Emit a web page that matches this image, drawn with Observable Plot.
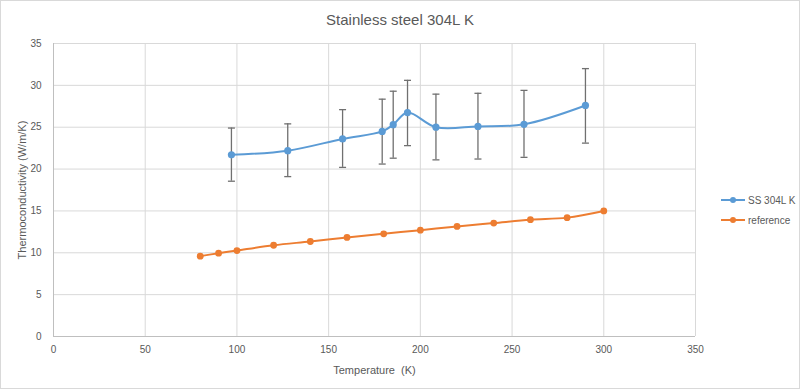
<!DOCTYPE html>
<html><head><meta charset="utf-8">
<script src="https://cdn.jsdelivr.net/npm/d3@7"></script>
<script src="https://cdn.jsdelivr.net/npm/@observablehq/plot@0.6"></script>
<style>
body{margin:0;background:#fff;}
#chart{position:relative;width:800px;height:389px;font-family:"Liberation Sans",Arial,sans-serif;overflow:hidden;background:#fff;}
#title{height:35px;line-height:40px;text-align:center;font-size:15px;color:#595959;}
#border{position:absolute;left:0;top:0;width:800px;height:389px;box-sizing:border-box;border:1px solid #d9d9d9;pointer-events:none;}
#legend{position:absolute;left:720px;top:190px;font-size:10px;color:#595959;white-space:nowrap;}
.item{display:flex;align-items:center;height:20px;white-space:nowrap;}
.item svg{margin-right:2px;flex:none;}
</style></head>
<body>
<div id="chart">
  <div id="title">Stainless steel 304L K</div>
  <div id="plot"></div>
  <div id="legend"></div>
  <div id="border"></div>
</div>
<script>
const ssTemp = [97, 127.7, 157.6, 179.2, 185.2, 193, 208.5, 231.4, 256.5, 290];
const ssK    = [21.7, 22.2, 23.6, 24.5, 25.3, 26.75, 25.0, 25.1, 25.35, 27.6];
const ssLow  = [18.55, 19.1, 20.2, 20.6, 21.3, 22.8, 21.1, 21.2, 21.4, 23.1];
const ssHigh = [24.9, 25.4, 27.1, 28.35, 29.3, 30.6, 28.95, 29.05, 29.4, 32.0];
const refTemp = [80, 90, 100, 120, 140, 160, 180, 200, 220, 240, 260, 280, 300];
const refK    = [9.6, 9.95, 10.27, 10.9, 11.35, 11.83, 12.27, 12.7, 13.15, 13.55, 13.95, 14.2, 15.0];
const xTicks = [0, 50, 100, 150, 200, 250, 300, 350];
const yTicks = [0, 5, 10, 15, 20, 25, 30, 35];
const seriesNames = ["SS 304L K", "reference"];
const colors = ["#5B9BD5", "#ED7D31"];

const ss = ssTemp.map((t, i) => ({t, k: ssK[i], lo: ssLow[i], hi: ssHigh[i]}));
const ref = refTemp.map((t, i) => ({t, k: refK[i]}));

const capSymbol = {draw(ctx, size){ const r = Math.sqrt(size/Math.PI); ctx.moveTo(-r,0); ctx.lineTo(r,0); }};

const plot = Plot.plot({
  width: 800, height: 354,
  marginLeft: 53, marginRight: 105, marginTop: 8, marginBottom: 53,
  style: {fontFamily: '"Liberation Sans", Arial, sans-serif', fontSize: "10px", color: "#595959", background: "transparent"},
  x: {domain: [0, 350], ticks: xTicks, tickSize: 0, tickPadding: 9, label: "Temperature  (K)", labelAnchor: "center", labelArrow: "none", labelOffset: 37},
  y: {domain: [0, 35], ticks: yTicks, tickSize: 0, tickPadding: 12, label: "Thermoconductivity (W/m/K)", labelAnchor: "center", labelArrow: "none", labelOffset: 35},
  marks: [
    Plot.gridX(xTicks, {stroke: "#d9d9d9", strokeOpacity: 1}),
    Plot.gridY(yTicks, {stroke: "#d9d9d9", strokeOpacity: 1}),
    Plot.ruleY([0], {stroke: "#bfbfbf"}),
    Plot.ruleX([0], {stroke: "#bfbfbf"}),
    Plot.ruleX(ss, {x: "t", y1: "lo", y2: "hi", stroke: "#707070", strokeWidth: 1.3}),
    Plot.dot(ss, {x: "t", y: "lo", symbol: capSymbol, r: 3.5, stroke: "#707070", strokeWidth: 1.3}),
    Plot.dot(ss, {x: "t", y: "hi", symbol: capSymbol, r: 3.5, stroke: "#707070", strokeWidth: 1.3}),
    Plot.line(ref, {x: "t", y: "k", stroke: colors[1], strokeWidth: 2, curve: "catmull-rom"}),
    Plot.dot(ref, {x: "t", y: "k", fill: colors[1], r: 3.4}),
    Plot.line(ss, {x: "t", y: "k", stroke: colors[0], strokeWidth: 2, curve: "catmull-rom"}),
    Plot.dot(ss, {x: "t", y: "k", fill: colors[0], r: 3.6})
  ]
});
plot.querySelectorAll('[aria-label="x-axis label"] text, [aria-label="y-axis label"] text').forEach(t => t.style.fontSize = "11px");
document.getElementById("plot").appendChild(plot);

const legend = document.getElementById("legend");
seriesNames.forEach((name, i) => {
  const div = document.createElement("div");
  div.className = "item";
  div.innerHTML = `<svg width="26" height="10"><line x1="1" x2="25" y1="5" y2="5" stroke="${colors[i]}" stroke-width="2"/><circle cx="13" cy="5" r="3" fill="${colors[i]}"/></svg><span>${name}</span>`;
  legend.appendChild(div);
});
</script>
</body></html>
